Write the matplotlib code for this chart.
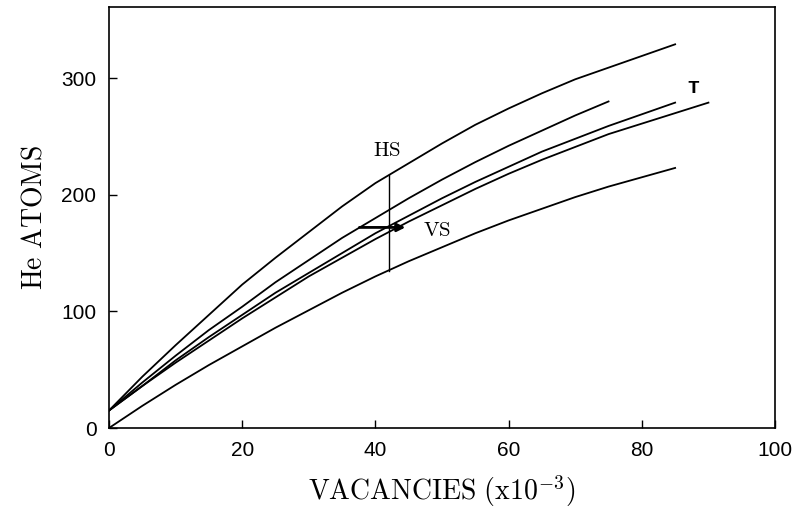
"""He atoms vs vacancies curves, recreated from a scanned figure."""

import matplotlib

matplotlib.use("Agg")
import matplotlib.pyplot as plt

plt.rcParams["mathtext.fontset"] = "cm"

# values
x_top = [0, 5, 10, 15, 20, 25, 30, 35, 40, 45, 50, 55, 60, 65, 70, 75, 80, 85]
y_top = [15, 44, 71, 97, 123, 146, 168, 190, 210, 227, 244, 260, 274, 287, 299, 309, 319, 329]

x_second = [0, 5, 10, 15, 20, 25, 30, 35, 40, 45, 50, 55, 60, 65, 70, 75]
y_second = [15, 39, 62, 84, 104, 125, 144, 163, 180, 197, 213, 228, 242, 255, 268, 280]

x_third = [0, 5, 10, 15, 20, 25, 30, 35, 40, 45, 50, 55, 60, 65, 70, 75, 80, 85]
y_third = [15, 36, 58, 78, 97, 116, 133, 150, 167, 182, 197, 211, 224, 237, 248, 259, 269, 279]

x_t = [0, 5, 10, 15, 20, 25, 30, 35, 40, 45, 50, 55, 60, 65, 70, 75, 80, 85, 90]
y_t = [15, 36, 56, 75, 94, 112, 130, 146, 162, 177, 191, 205, 218, 230, 241, 252, 261, 270, 279]

x_bottom = [0, 5, 10, 15, 20, 25, 30, 35, 40, 45, 50, 55, 60, 65, 70, 75, 80, 85]
y_bottom = [0, 19, 37, 54, 70, 86, 101, 116, 130, 143, 155, 167, 178, 188, 198, 207, 215, 223]

hs_x = 42
hs_span = (135, 217)
vs_arrow = (37.6, 44.5, 172)

x_ticks = [0, 20, 40, 60, 80, 100]
y_ticks = [0, 100, 200, 300]

fig = plt.figure(figsize=(7.99, 5.18), dpi=100)
ax = fig.add_axes([0.1364, 0.1737, 0.8336, 0.8128])

for xs, ys in ((x_top, y_top), (x_second, y_second), (x_third, y_third),
               (x_t, y_t), (x_bottom, y_bottom)):
    ax.plot(xs, ys, color="black", lw=1.3)

ax.plot([hs_x, hs_x], hs_span, color="black", lw=1.0)
ax.annotate("", xy=(vs_arrow[1], vs_arrow[2]), xytext=(vs_arrow[0], vs_arrow[2]),
            arrowprops=dict(arrowstyle="-|>", color="black", lw=2.0,
                            mutation_scale=12, shrinkA=0, shrinkB=0))

ax.text(41.7, 238, r"$\mathrm{HS}$", fontsize=15, ha="center", va="center")
ax.text(49.3, 170, r"$\mathrm{VS}$", fontsize=15, ha="center", va="center")
ax.text(87.7, 291, "T", fontsize=14, ha="center", va="center",
        family="Liberation Mono", weight="bold")

ax.set_xlim(0, 100)
ax.set_ylim(0, 361)
ax.set_xticks(x_ticks)
ax.set_yticks(y_ticks)
ax.tick_params(direction="in", length=6, width=1.0, labelsize=15,
               top=False, right=False, pad=9)
for lbl in ax.get_xticklabels() + ax.get_yticklabels():
    lbl.set_family("Liberation Sans")
for s in ax.spines.values():
    s.set_linewidth(1.2)

ax.set_xlabel(r"$\mathrm{VACANCIES\ (x10^{-3})}$", fontsize=20, labelpad=10)
ax.set_ylabel(r"$\mathrm{He\ ATOMS}$", fontsize=20, labelpad=10)

fig.savefig("out.png", dpi=100)
plt.close(fig)
